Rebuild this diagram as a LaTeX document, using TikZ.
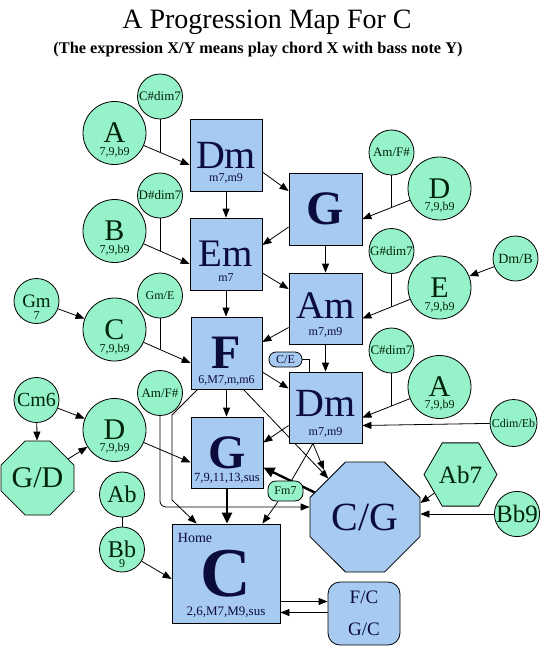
\documentclass[tikz,border=0pt]{standalone}
\usepackage{fontspec}
\setmainfont{Liberation Serif}
\usetikzlibrary{arrows.meta,shapes.geometric,shapes.misc,calc,backgrounds}
\definecolor{boxblue}{RGB}{166,202,240}
\definecolor{mint}{RGB}{150,242,200}
\definecolor{navytxt}{RGB}{12,12,60}
\definecolor{greentxt}{RGB}{0,36,12}
\newcommand\myfs[1]{\fontsize{#1}{#1}\selectfont}
\begin{document}
\begin{tikzpicture}[x=1pt,y=-1pt,
  every node/.style={inner sep=0pt},
  box/.style={draw=black, fill=boxblue, text=navytxt, line width=0.8pt, minimum width=72pt, minimum height=72pt},
  bc/.style={circle, draw=black, fill=mint, text=greentxt, line width=0.8pt, minimum size=63pt, font=\myfs{30}},
  sc/.style={circle, draw=black, fill=mint, text=greentxt, line width=0.8pt, minimum size=45pt},
  subb/.style={text=navytxt, font=\myfs{12}},
  subg/.style={text=greentxt, font=\myfs{12}},
  con/.style={line width=0.8pt, draw=black},
  arr/.style={con, -{Triangle[length=9pt,width=7pt]}},
  tarr/.style={line width=2.4pt, draw=black, -{Triangle[length=11pt,width=10pt]}},
]
\useasboundingbox (0,0) rectangle (548,659);

% titles
\node[anchor=base, font=\myfs{28}] (title) at (267,28) {A Progression Map For C};
\node[anchor=base, font=\bfseries\myfs{16.3}] (subtitle) at (258,53) {(The expression X/Y means play chord X with bass note Y)};

% main boxes
\node[box, font=\myfs{40}] (Dm1) at (226,155) {Dm};
\node[subb] (Dm1s) at ($(Dm1)+(0,23)$) {m7,m9};
\node[box, font=\myfs{39}] (Em) at (226,254) {Em};
\node[subb] (Ems) at ($(Em)+(0,24)$) {m7};
\node[box, minimum width=73pt, font=\bfseries\myfs{48}] (G1) at (325.5,209) {G};
\node[box, minimum width=73pt, minimum height=71pt, text depth=6pt, font=\myfs{39}] (Am) at (325.5,308.5) {Am};
\node[subb] (Ams) at ($(Am)+(0,23.5)$) {m7,m9};
\node[box, minimum width=73pt, minimum height=71pt, text depth=8pt, font=\myfs{40}] (Dm2) at (325.5,407.5) {Dm};
\node[subb] (Dm2s) at ($(Dm2)+(0,25)$) {m7,m9};
\node[box, minimum width=71pt, font=\bfseries\myfs{48}] (F) at (226.5,353) {F};
\node[subb] (Fs) at ($(F)+(0,27)$) {6,M7,m,m6};
\node[box, minimum height=71pt, font=\bfseries\myfs{48}] (G2) at (227,452.5) {G};
\node[subb, font=\myfs{12.5}] (G2s) at ($(G2)+(0,25.5)$) {7,9,11,13,sus};
\node[box, minimum width=108pt, minimum height=99pt, font=\bfseries\myfs{70}] (C) at (226,573.5) {C};
\node[subb, font=\myfs{13}] (Cs) at ($(C)+(0,38.5)$) {2,6,M7,M9,sus};
\node[subb, font=\myfs{14}] (home) at ($(C)+(-31,-36)$) {Home};

\node[chamfered rectangle, chamfered rectangle sep=22pt, draw=black, fill=boxblue, text=navytxt, line width=0.8pt,
      minimum width=110pt, minimum height=110pt, font=\myfs{40}] (CG) at (365,517) {C/G};
\node[draw=black, fill=boxblue, text=navytxt, line width=0.8pt, rounded corners=12pt, minimum width=72pt,
      minimum height=63pt, align=center, font=\fontsize{19}{32}\selectfont] (FC) at (364,613.5) {F/C\\G/C};
\node[draw=black, fill=boxblue, text=navytxt, line width=0.8pt, rounded corners=7pt, minimum width=33pt,
      minimum height=15pt, font=\myfs{12}] (CE) at (285.5,359.5) {C/E};
\node[draw=black, fill=mint, text=greentxt, line width=0.8pt, rounded corners=8pt, minimum width=35pt,
      minimum height=20pt, font=\myfs{12}] (Fm7) at (285.5,491) {Fm7};

% left column circles
\node[bc] (A1) at (114.5,133) {A};
\node[subg] (A1s) at ($(A1)+(0,19)$) {7,9,b9};
\node[bc] (B1) at (114.5,231) {B};
\node[subg] (B1s) at ($(B1)+(0,19)$) {7,9,b9};
\node[bc] (C1) at (114.5,329.5) {C};
\node[subg] (C1s) at ($(C1)+(0,19.5)$) {7,9,b9};
\node[bc] (D2) at (114.5,430) {D};
\node[subg] (D2s) at ($(D2)+(0,18.5)$) {7,9,b9};
\node[sc, font=\myfs{13}] (Cs1) at (160,96.5) {C\#dim7};
\node[sc, font=\myfs{13}] (Ds1) at (160,195.5) {D\#dim7};
\node[sc, font=\myfs{12}] (GmE) at (160,295.5) {Gm/E};
\node[sc, font=\myfs{13}] (AF1) at (160,393) {Am/F\#};
\node[sc, font=\myfs{19}] (Gm) at (36.5,301) {Gm};
\node[subg] (Gms) at ($(Gm)+(0,15)$) {7};
\node[sc, font=\myfs{20}] (Cm6) at (36.5,400) {Cm6};
\node[chamfered rectangle, chamfered rectangle sep=14pt, draw=black, fill=mint, text=greentxt, line width=0.8pt,
      minimum width=73pt, minimum height=74pt, font=\myfs{30}] (GD) at (37.5,478) {G/D};
\node[sc, font=\myfs{24}] (Ab) at (122,494.5) {Ab};
\node[sc, font=\myfs{24}] (Bb) at (122,549.5) {Bb};
\node[subg] (Bbs) at ($(Bb)+(0,14)$) {9};

% right column circles
\node[bc] (D3) at (439.5,188.5) {D};
\node[subg] (D3s) at ($(D3)+(0,18.5)$) {7,9,b9};
\node[bc] (E) at (439.5,287.5) {E};
\node[subg] (Es) at ($(E)+(0,19.5)$) {7,9,b9};
\node[bc] (A2) at (439.5,387) {A};
\node[subg] (A2s) at ($(A2)+(0,18)$) {7,9,b9};
\node[sc, font=\myfs{13}] (AF2) at (391.5,152.5) {Am/F\#};
\node[sc, font=\myfs{13}] (Gs) at (391.5,251) {G\#dim7};
\node[sc, font=\myfs{14}] (DmB) at (515.5,258.5) {Dm/B};
\node[sc, font=\myfs{13}] (Cs2) at (391.5,350.5) {C\#dim7};
\node[sc, minimum size=47pt, font=\myfs{12}] (CdE) at (513.5,423) {Cdim/Eb};
\node[regular polygon, regular polygon sides=6, draw=black, fill=mint, text=greentxt, line width=0.8pt,
      minimum size=73pt, font=\myfs{25}] (Ab7) at (460.5,474.5) {Ab7};
\node[sc, font=\myfs{25}] (Bb9) at (517,514) {Bb9};

% junction points where side chords join an arrow
\coordinate (j1) at (160,152.3);
\coordinate (j2) at (160,250.9);
\coordinate (j3) at (160,349.4);
\coordinate (j4) at (391.5,207.4);
\coordinate (j5) at (391.5,306.7);
\coordinate (j6) at (391.5,405.9);
\coordinate (k1) at (172,415);
\coordinate (k2) at (172,500);

\begin{scope}[on background layer]
\fill[white] (0,0) rectangle (548,659);
% left side
\draw[arr] (A1) -- ($(Dm1.west)+(0,10)$);
\draw[con] (Cs1) -- (j1);
\draw[arr] (B1) -- ($(Em.west)+(0,10)$);
\draw[con] (Ds1) -- (j2);
\draw[arr] (C1) -- ($(F.west)+(0,10)$);
\draw[con] (GmE) -- (j3);
\draw[arr] (Gm) -- (C1);
\draw[arr] (Cm6) -- (D2);
\draw[arr] (Cm6) -- (GD);
\draw[arr] (GD) -- (D2);
\draw[arr] (D2) -- ($(G2.west)+(0,10)$);
\draw[arr, rounded corners=6pt] (AF1.south) |- ($(CG.west)+(0,-10)$);
\draw[arr] ($(F.south west)+(7,0)$) -- (k1) -- (k2) -- ($(C.north west)+(25,0)$);
\draw[con] (Ab) -- (Bb);
\draw[arr] (Bb) -- ($(C.west)+(0,5.5)$);
% spine
\draw[arr] (Dm1.south) -- (Em.north);
\draw[arr] (Em.south) -- (Em.south |- F.north);
\draw[arr] (F.south) -- (F.south |- G2.north);
\draw[tarr] (G2.south) -- (G2.south |- C.north);
\draw[arr] (G1.south) -- (Am.north);
\draw[arr] (Am.south) -- (Dm2.north);
\draw[arr] ($(Dm1.east)+(0,17)$) -- ($(G1.west)+(0,-18)$);
\draw[arr] ($(G1.west)+(0,18)$) -- ($(Em.east)+(0,-9)$);
\draw[arr] ($(Em.east)+(0,19)$) -- ($(Am.west)+(0,-19.5)$);
\draw[arr] ($(Am.west)+(0,19)$) -- ($(F.east)+(0,-11)$);
\draw[arr] ($(F.east)+(0,19)$) -- ($(Dm2.west)+(0,-19)$);
\draw[arr] ($(Dm2.west)+(0,18)$) -- ($(G2.east)+(0,-10)$);
\draw[tarr] (CG) -- ($(G2.east)+(0,15)$);
\draw[arr] ($(F.south east)+(-19,0)$) -- (CG);
\draw[arr] ($(Dm2.south)+(-12.5,0)$) -- ($(CG)+(-41,-47)$);
\draw[con] ($(Dm2.south)+(-12.5,0)$) -- (Fm7);
\draw[arr] (Fm7) -- ($(C.north east)+(-18,0)$);
\draw[con] (CE.east) -| ($(Dm2.north)+(-16.5,0)$);
% right side
\draw[arr] (D3) -- ($(G1.east)+(0,10)$);
\draw[con] (AF2) -- (j4);
\draw[arr] (E) -- ($(Am.east)+(0,10)$);
\draw[con] (Gs) -- (j5);
\draw[arr] (A2) -- ($(Dm2.east)+(0,10)$);
\draw[con] (Cs2) -- (j6);
\draw[arr] (DmB) -- (E);
\draw[arr] (CdE) -- ($(Dm2.east)+(0,18)$);
\draw[arr] (Ab7) -- ($(CG.east)+(0,-14)$);
\draw[arr] (Bb9) -- (Bb9 -| CG.east);
\draw[arr] ($(C.east)+(0,28)$) -- ($(FC.west)+(0,-12)$);
\draw[arr] ($(FC.west)+(0,-1)$) -- ($(C.east)+(0,39)$);
\end{scope}
\end{tikzpicture}
\end{document}
